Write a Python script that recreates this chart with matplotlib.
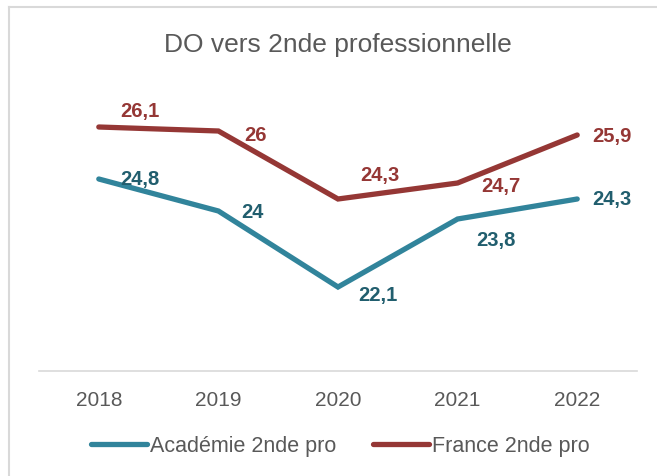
import matplotlib
matplotlib.use("Agg")
import matplotlib.pyplot as plt
from matplotlib.lines import Line2D

plt.rcParams['font.family'] = ['Liberation Sans', 'DejaVu Sans']

years = ["2018", "2019", "2020", "2021", "2022"]
academie = [24.8, 24.0, 22.1, 23.8, 24.3]
france = [26.1, 26.0, 24.3, 24.7, 25.9]
academie_labels = ["24,8", "24", "22,1", "23,8", "24,3"]
france_labels = ["26,1", "26", "24,3", "24,7", "25,9"]
title = "DO vers 2nde professionnelle"
series_names = ["Académie 2nde pro", "France 2nde pro"]

c_acad = "#31849B"
c_acad_txt = "#215E6E"
c_fr = "#953735"
c_fr_txt = "#953735"

fig = plt.figure(figsize=(6.57, 4.77), dpi=100)
ax = fig.add_axes([39/657, 1-372/477, (637-39)/657, (372-52)/477])

x = list(range(len(years)))
ax.plot(x, academie, color=c_acad, lw=3.8, solid_capstyle='round', solid_joinstyle='miter')
ax.plot(x, france, color=c_fr, lw=3.8, solid_capstyle='round', solid_joinstyle='miter')

ax.set_xlim(-0.5, len(years) - 0.5)
ax.set_ylim(20, 28)

# label offsets in points (px * 0.72)
fr_off = [(41, 16), (37, -4), (42, 24), (43, -3), (35, -1)]
ac_off = [(41, 0), (34, -1), (40, -8), (38, -21), (35, 0)]
for i in x:
    ax.annotate(france_labels[i], (i, france[i]), xytext=(fr_off[i][0]*0.72, fr_off[i][1]*0.72),
                textcoords='offset points', ha='center', va='center',
                fontsize=14.5, fontweight='bold', color=c_fr_txt)
    ax.annotate(academie_labels[i], (i, academie[i]), xytext=(ac_off[i][0]*0.72, ac_off[i][1]*0.72),
                textcoords='offset points', ha='center', va='center',
                fontsize=14.5, fontweight='bold', color=c_acad_txt)

ax.set_xticks(x)
ax.set_xticklabels(years, fontsize=15, color="#595959")
ax.tick_params(axis='x', length=0, pad=14)
ax.set_yticks([])
for s in ['left', 'right', 'top']:
    ax.spines[s].set_visible(False)
ax.spines['bottom'].set_color("#D9D9D9")
ax.spines['bottom'].set_linewidth(1.2)

fig.text(338/657, 1-45/477, title, ha='center', va='center', fontsize=19, color="#595959")

handles = [Line2D([], [], color=c_acad, lw=3.8, solid_capstyle='round'),
           Line2D([], [], color=c_fr, lw=3.8, solid_capstyle='round')]
leg = fig.legend(handles, series_names, loc='center', bbox_to_anchor=(340/657, 1-447/477),
                 ncol=2, frameon=False, fontsize=15.5, handlelength=2.6, handletextpad=0.15,
                 columnspacing=1.7)
for t in leg.get_texts():
    t.set_color("#595959")

# outer chart border (partially visible)
fig.add_artist(Line2D([9/657, 9/657], [0, 1-8/477], transform=fig.transFigure, color="#D9D9D9", lw=1.5))
fig.add_artist(Line2D([9/657, 1], [1-8/477, 1-8/477], transform=fig.transFigure, color="#D9D9D9", lw=1.5))

fig.savefig("out.png", dpi=100)
